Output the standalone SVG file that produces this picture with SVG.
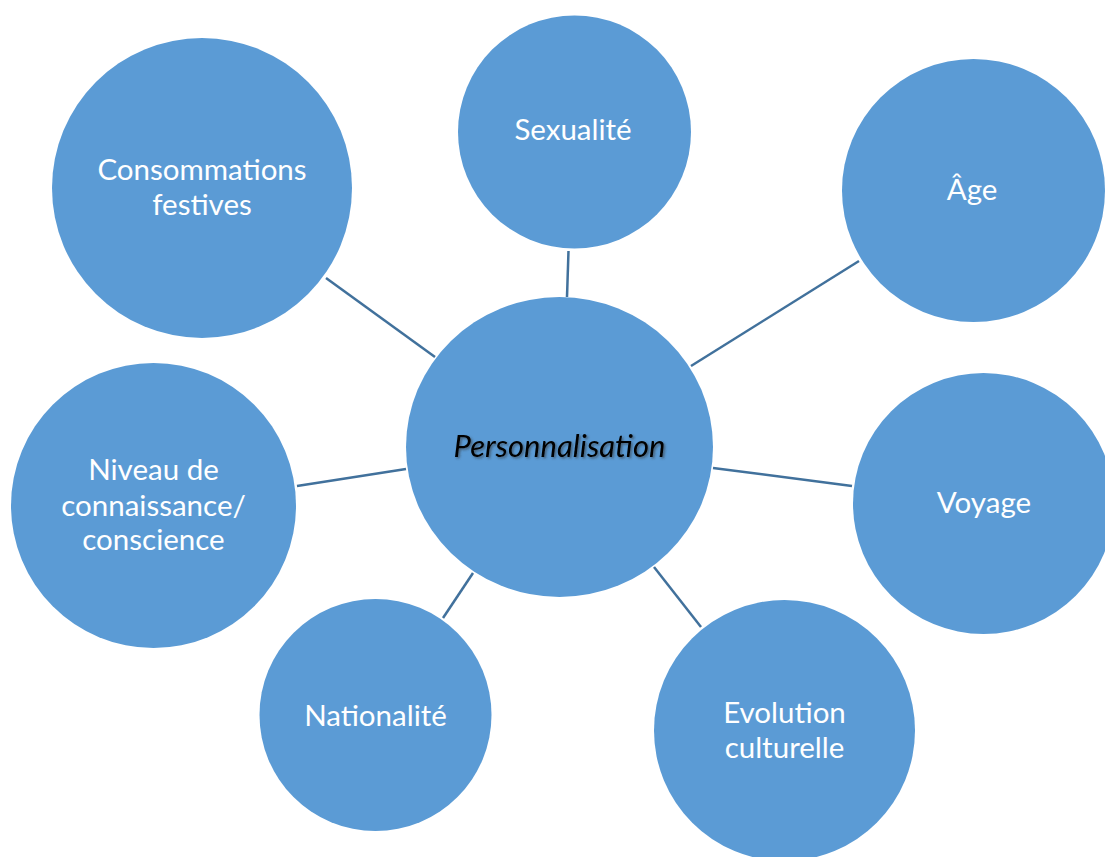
<svg xmlns="http://www.w3.org/2000/svg" width="1105" height="857" viewBox="0 0 1105 857">
<style>
.node{fill:#5B9BD5;}
.lbl{font-family:Lato,"Open Sans","DejaVu Sans",sans-serif;font-size:29.5px;fill:#FFFFFF;text-anchor:middle;}
.center{font-family:Lato,"Open Sans","DejaVu Sans",sans-serif;font-size:31px;fill:#000000;font-style:italic;text-anchor:middle;filter:url(#shadow);}
.edge{stroke:#41719C;stroke-width:2.5;fill:none;}
</style>
<defs>
<filter id="shadow" x="-10%" y="-30%" width="120%" height="160%">
<feDropShadow dx="1.5" dy="1.5" stdDeviation="1" flood-color="#333333" flood-opacity="0.6"/>
</filter>
</defs>
<rect width="1105" height="857" fill="#FFFFFF"/>
<g id="connectors">
<line class="edge" x1="568.5" y1="251" x2="567" y2="297"/>
<line class="edge" x1="859" y1="261" x2="691" y2="366"/>
<line class="edge" x1="326" y1="278" x2="435" y2="357"/>
<line class="edge" x1="297" y1="486" x2="406" y2="469"/>
<line class="edge" x1="443" y1="618" x2="473" y2="573"/>
<line class="edge" x1="654" y1="567" x2="701" y2="627"/>
<line class="edge" x1="713" y1="468" x2="852" y2="486"/>
</g>
<g id="node-personnalisation">
<ellipse class="node" cx="559.5" cy="447" rx="153.5" ry="150"/>
<text class="center" x="559.5" y="457">Personnalisation</text>
</g>
<g id="node-sexualite">
<circle class="node" cx="574.5" cy="132" r="116.5"/>
<text class="lbl" x="573" y="139.5">Sexualité</text>
</g>
<g id="node-age">
<circle class="node" cx="973.5" cy="190.5" r="131.5"/>
<text class="lbl" x="972" y="200">Âge</text>
</g>
<g id="node-consommations">
<circle class="node" cx="202" cy="188" r="150"/>
<text class="lbl" x="202" y="180">Consommations</text>
<text class="lbl" x="202" y="215">festives</text>
</g>
<g id="node-niveau">
<circle class="node" cx="153.5" cy="505.5" r="142.5"/>
<text class="lbl" x="153.5" y="480">Niveau de</text>
<text class="lbl" x="153.5" y="516">connaissance/</text>
<text class="lbl" x="153.5" y="550">conscience</text>
</g>
<g id="node-voyage">
<circle class="node" cx="983.5" cy="503.5" r="130.5"/>
<text class="lbl" x="984" y="513">Voyage</text>
</g>
<g id="node-nationalite">
<circle class="node" cx="375.5" cy="715" r="116"/>
<text class="lbl" x="375.5" y="726">Nationalité</text>
</g>
<g id="node-evolution">
<circle class="node" cx="784.5" cy="730.5" r="130.5"/>
<text class="lbl" x="784.5" y="723">Evolution</text>
<text class="lbl" x="784.5" y="758">culturelle</text>
</g>
</svg>
